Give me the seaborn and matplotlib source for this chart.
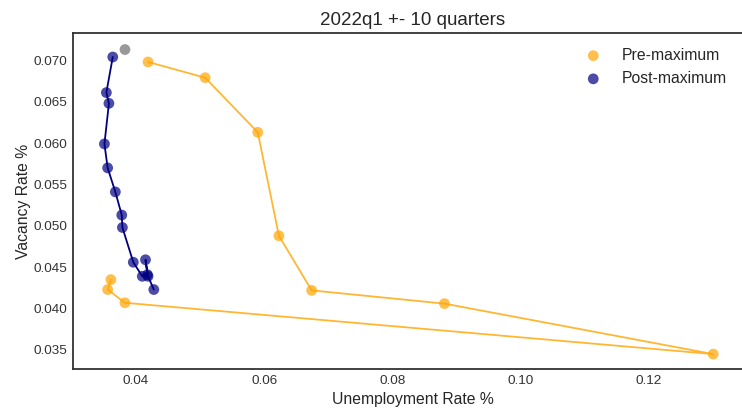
import matplotlib
matplotlib.use("Agg")
import matplotlib.pyplot as plt
import seaborn as sns
import pandas as pd

pre_unemp = [0.0361, 0.0356, 0.0383, 0.1300, 0.0881, 0.0674, 0.0623, 0.0590, 0.0508, 0.0419]
pre_vac = [0.0435, 0.0423, 0.0407, 0.0345, 0.0406, 0.0422, 0.0488, 0.0613, 0.0679, 0.0698]

post_unemp = [0.0364, 0.0354, 0.0358, 0.0351, 0.0356, 0.0368, 0.0378, 0.0379, 0.0396,
              0.0410, 0.0418, 0.0415, 0.0419, 0.0428]
post_vac = [0.0704, 0.0661, 0.0648, 0.0599, 0.0570, 0.0541, 0.0513, 0.0498, 0.0456,
            0.0439, 0.0441, 0.0459, 0.0439, 0.0423]

max_unemp = [0.0383]
max_vac = [0.0713]

sns.set_style("white")
plt.rcParams['font.family'] = ['Liberation Sans', 'DejaVu Sans']

pre = pd.DataFrame({"u": pre_unemp, "v": pre_vac})
post = pd.DataFrame({"u": post_unemp, "v": post_vac})
mx = pd.DataFrame({"u": max_unemp, "v": max_vac})

fig = plt.figure(figsize=(7.42, 4.13), dpi=100)
ax = fig.add_axes([73/742, 1-369/413, 680/742, (369-33)/413])

sns.lineplot(data=pre, x="u", y="v", sort=False, color="orange", alpha=0.8, lw=1.3, ax=ax)
sns.lineplot(data=post, x="u", y="v", sort=False, color="navy", lw=1.3, ax=ax)
sns.scatterplot(data=pre, x="u", y="v", color="orange", alpha=0.7, s=60, edgecolor="none",
                label="Pre-maximum", ax=ax, zorder=3)
sns.scatterplot(data=post, x="u", y="v", color="navy", alpha=0.7, s=60, edgecolor="none",
                label="Post-maximum", ax=ax, zorder=3)
sns.scatterplot(data=mx, x="u", y="v", color="gray", alpha=0.8, s=60, edgecolor="none",
                ax=ax, zorder=3)

ax.set_xlim(0.0302, 0.1362)
ax.set_ylim(0.0327, 0.0733)
ax.set_xticks([0.04, 0.06, 0.08, 0.10, 0.12])
ax.set_xticklabels(["0.04", "0.06", "0.08", "0.10", "0.12"])
ax.set_yticks([0.035, 0.040, 0.045, 0.050, 0.055, 0.060, 0.065, 0.070])
ax.set_yticklabels(["0.035", "0.040", "0.045", "0.050", "0.055", "0.060", "0.065", "0.070"])
ax.tick_params(labelsize=9.7, colors="#333333", length=0, pad=4)
for sp in ax.spines.values():
    sp.set_color("#333333")
    sp.set_linewidth(1.3)

ax.set_xlabel("Unemployment Rate %", fontsize=11.3, color="#262626")
ax.set_ylabel("Vacancy Rate %", fontsize=11.3, color="#262626", labelpad=2)
ax.set_title("2022q1 +- 10 quarters", fontsize=13.5, color="#262626")

leg = ax.legend(loc="upper right", frameon=False, fontsize=11.3, markerscale=1.0,
                labelspacing=0.52, bbox_to_anchor=(0.982, 0.998))

fig.savefig("out.png", dpi=100)
